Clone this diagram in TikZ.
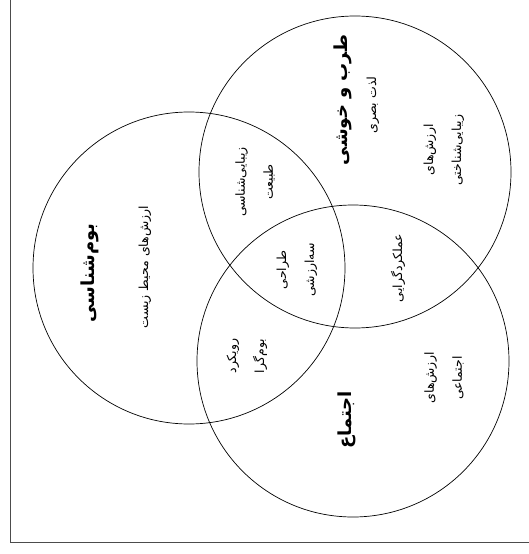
\documentclass[tikz,border=0pt]{standalone}
\usepackage{fontspec}
\newfontfamily\fafont[Script=Arabic]{DejaVu Sans}
\TeXXeTstate=1
\usetikzlibrary{positioning}
\newcommand{\fa}[1]{\beginR #1\endR}

\begin{document}
\begin{tikzpicture}[x=1pt, y=-1pt,
    ring/.style={draw=black, line width=0.7pt},
    frameline/.style={draw=black!70, line width=0.9pt},
    txt/.style={font=\fafont\fontsize{12.5}{28}\selectfont, rotate=90, align=center, inner sep=0pt},
    heading/.style={font=\fafont\bfseries\fontsize{18}{20}\selectfont, rotate=90, inner sep=0pt}]
    \useasboundingbox (0,0) rectangle (529,554);

    % Frame
    \draw[frameline] (10,0) -- (10,542) -- (529,542);

    % Circles
    \coordinate (eco) at (189,268);
    \coordinate (joy) at (355,172);
    \coordinate (soc) at (353,361);
    \draw[ring] (eco) circle (156pt);
    \draw[ring] (joy) circle (156pt);
    \draw[ring] (soc) circle (156pt);

    % Ecology circle
    \node[heading] (ecoT) at (90,273) {\fa{بوم‌شناسی}};
    \node[txt] (ecoV) at (145,267) {\fa{ارزش‌های محیط زیست}};

    % Joy circle
    \node[heading] (joyT) at (343,100) {\fa{طرب و خوشی}};
    \node[txt] (joyS) at (373,105) {\fa{لذت بصری}};
    \node[txt] (aest) at (444,150) {\fa{ارزش‌های}\\\fa{زیبایی‌شناختی}};

    % Society circle
    \node[heading] (socT) at (347,420) {\fa{اجتماع}};
    \node[txt] (socV) at (444,378) {\fa{ارزش‌های}\\\fa{اجتماعی}};

    % Overlaps
    \node[txt] (nat) at (255,182) {\fa{زیبایی‌شناسی}\\\fa{طبیعت}};
    \node[txt] (appr) at (247,356) {\fa{رویکرد}\\\fa{بوم‌گرا}};
    \node[txt] (func) at (398,268) {\fa{عملکردگرایی}};
    \node[txt] (tri) at (297,270) {\fa{طراحی}\\\fa{سه‌ارزشی}};
\end{tikzpicture}
\end{document}
